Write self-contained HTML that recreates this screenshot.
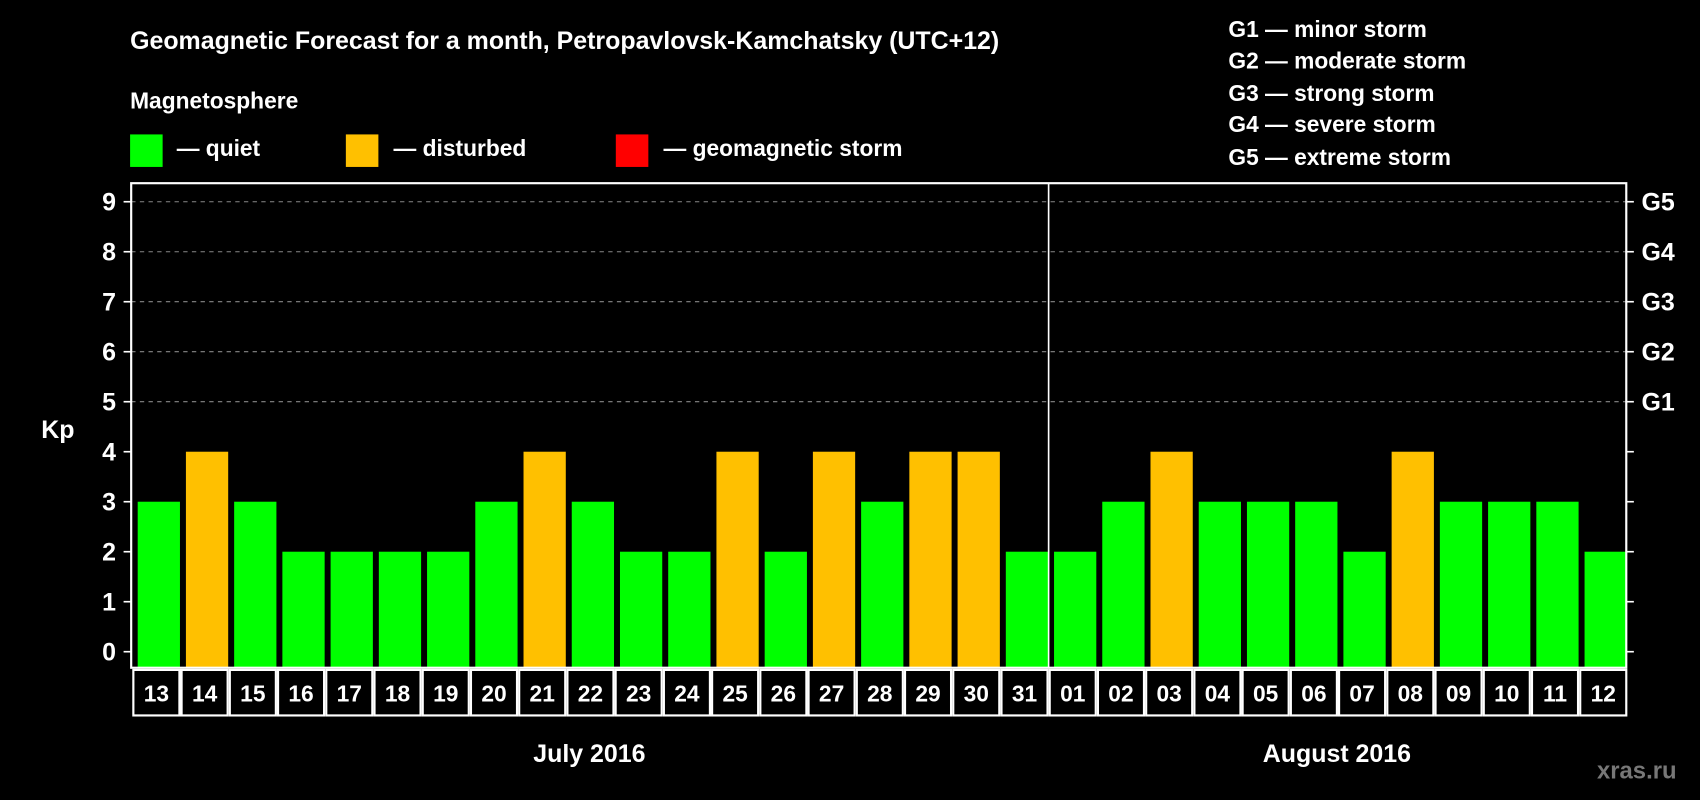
<!DOCTYPE html>
<html><head><meta charset="utf-8"><style>
html,body{margin:0;padding:0;background:#000;}
svg{display:block;font-family:"Liberation Sans",Arial,sans-serif;font-weight:bold;}
</style></head><body>
<svg id="chart" width="1700" height="800" viewBox="0 0 1568 738" preserveAspectRatio="none" xmlns="http://www.w3.org/2000/svg">
<rect width="1568" height="738" fill="#000"/>
<text x="120" y="45" fill="#fff" font-size="23">Geomagnetic Forecast for a month, Petropavlovsk-Kamchatsky (UTC+12)</text>
<text x="120" y="100" fill="#fff" font-size="21">Magnetosphere</text>
<g><rect x="120" y="124" width="30" height="30" fill="#00ff00"/><text x="163" y="144" fill="#fff" font-size="21">— quiet</text></g>
<g><rect x="319" y="124" width="30" height="30" fill="#ffc000"/><text x="363" y="144" fill="#fff" font-size="21">— disturbed</text></g>
<g><rect x="568" y="124" width="30" height="30" fill="#ff0000"/><text x="612" y="144" fill="#fff" font-size="21">— geomagnetic storm</text></g>
<g fill="#fff" font-size="21">
<text x="1133" y="34">G1 — minor storm</text>
<text x="1133" y="63">G2 — moderate storm</text>
<text x="1133" y="93">G3 — strong storm</text>
<text x="1133" y="122">G4 — severe storm</text>
<text x="1133" y="152">G5 — extreme storm</text>
</g>
<text x="38" y="404" fill="#fff" font-size="23">Kp</text>
<text x="1473" y="718" fill="#777" font-size="22">xras.ru</text>
<g id="plot"></g>
</svg>
<script>
const days = ["13","14","15","16","17","18","19","20","21","22","23","24","25","26","27","28","29","30","31","01","02","03","04","05","06","07","08","09","10","11","12"];
const kpValues = [3,4,3,2,2,2,2,3,4,3,2,2,4,2,4,3,4,4,2,2,3,4,3,3,3,2,4,3,3,3,2];
const yTicks = [0,1,2,3,4,5,6,7,8,9];
const gLabels = ["G1","G2","G3","G4","G5"];
const months = ["July 2016","August 2016"];
const monthLengths = [19,12];

const NS="http://www.w3.org/2000/svg";
const g=document.getElementById('plot');
const L=121,R=1500,T=169,B=616,Y0=601.2,Y9=186.1;
const y=v=>Y0+(Y9-Y0)*v/9;
const bw=(R-L)/days.length;
const x=i=>L+i*bw;
function el(t,a){const e=document.createElementNS(NS,t);for(const k in a)e.setAttribute(k,a[k]);g.appendChild(e);return e;}
// grid
for(let v=5;v<=9;v++){
 const e=el('line',{x1:L,x2:R,y1:y(v),y2:y(v),stroke:'#888','stroke-dasharray':'4 4','stroke-width':1});
 
 
}
yTicks.forEach(v=>{
 const t=el('line',{x1:L-7,x2:L,y1:y(v),y2:y(v),stroke:'#fff','stroke-width':1.5});
 
 
 const t2=el('line',{x1:R,x2:R+7,y1:y(v),y2:y(v),stroke:'#fff','stroke-width':1.5});
 
 
 const l=el('text',{x:L-14,y:y(v)+8,fill:'#fff','font-size':23,'text-anchor':'end'});
 l.textContent=v;
 
 
});
gLabels.forEach((s,i)=>{
 const l=el('text',{x:R+14,y:y(i+5)+8,fill:'#fff','font-size':23});
 l.textContent=s;
 
 
});
// bars
kpValues.forEach((v,i)=>{
 const c=v>=5?'#ff0000':(v>=4?'#ffc000':'#00ff00');
 const r=el('rect',{x:x(i)+6,y:y(v),width:bw-5.5,height:B-y(v),fill:c});
 
 
 const bx=el('rect',{x:x(i)+2,y:B+2,width:bw-2,height:42,fill:'none',stroke:'#fff','stroke-width':2});
 
 
 const l=el('text',{x:x(i)+bw/2+1,y:B+31,fill:'#fff','font-size':21,'text-anchor':'middle'});
 l.textContent=days[i];
 
 
});
// frame
const f=el('rect',{x:L,y:T,width:R-L,height:B-T,fill:'none',stroke:'#fff','stroke-width':2});


let start=0;
months.forEach((m,k)=>{
 const n=monthLengths[k];
 const l=el('text',{x:x(start)+n*bw/2,y:703,fill:'#fff','font-size':23,'text-anchor':'middle'});
 l.textContent=m;
 
 
 start+=n;
 if(k<months.length-1){
  const s=el('line',{x1:x(start)+1,x2:x(start)+1,y1:T,y2:B,stroke:'#fff','stroke-width':1.5});
  
  
 }
});
</script>
</body></html>
